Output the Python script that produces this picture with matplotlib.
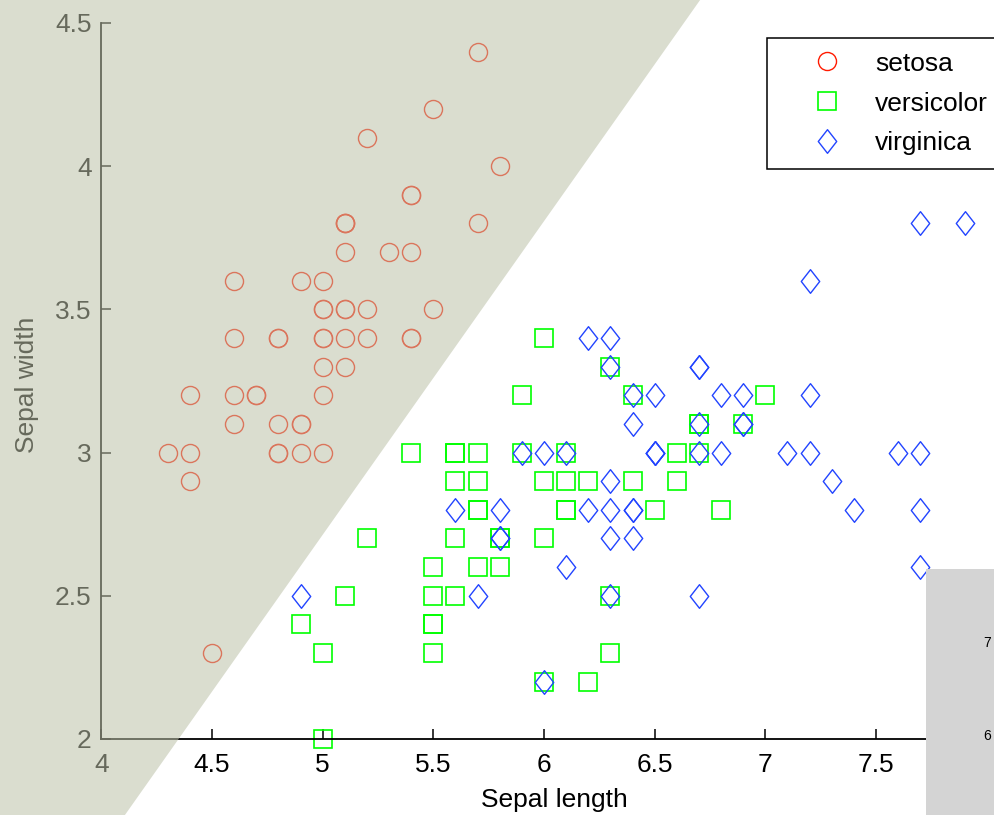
import matplotlib.pyplot as plt
import numpy as np
from matplotlib.path import Path
from matplotlib.patches import Polygon, Rectangle

plt.rcParams['font.family'] = ['Liberation Sans', 'DejaVu Sans']

# iris sepal measurements (length, width) per species
setosa_len = [5.1, 4.9, 4.7, 4.6, 5.0, 5.4, 4.6, 5.0, 4.4, 4.9, 5.4, 4.8, 4.8, 4.3, 5.8, 5.7, 5.4,
              5.1, 5.7, 5.1, 5.4, 5.1, 4.6, 5.1, 4.8, 5.0, 5.0, 5.2, 5.2, 4.7, 4.8, 5.4, 5.2, 5.5,
              4.9, 5.0, 5.5, 4.9, 4.4, 5.1, 5.0, 4.5, 4.4, 5.0, 5.1, 4.8, 5.1, 4.6, 5.3, 5.0]
setosa_wid = [3.5, 3.0, 3.2, 3.1, 3.6, 3.9, 3.4, 3.4, 2.9, 3.1, 3.7, 3.4, 3.0, 3.0, 4.0, 4.4, 3.9,
              3.5, 3.8, 3.8, 3.4, 3.7, 3.6, 3.3, 3.4, 3.0, 3.4, 3.5, 3.4, 3.2, 3.1, 3.4, 4.1, 4.2,
              3.1, 3.2, 3.5, 3.6, 3.0, 3.4, 3.5, 2.3, 3.2, 3.5, 3.8, 3.0, 3.8, 3.2, 3.7, 3.3]
versi_len = [7.0, 6.4, 6.9, 5.5, 6.5, 5.7, 6.3, 4.9, 6.6, 5.2, 5.0, 5.9, 6.0, 6.1, 5.6, 6.7, 5.6,
             5.8, 6.2, 5.6, 5.9, 6.1, 6.3, 6.1, 6.4, 6.6, 6.8, 6.7, 6.0, 5.7, 5.5, 5.5, 5.8, 6.0,
             5.4, 6.0, 6.7, 6.3, 5.6, 5.5, 5.5, 6.1, 5.8, 5.0, 5.6, 5.7, 5.7, 6.2, 5.1, 5.7]
versi_wid = [3.2, 3.2, 3.1, 2.3, 2.8, 2.8, 3.3, 2.4, 2.9, 2.7, 2.0, 3.0, 2.2, 2.9, 2.9, 3.1, 3.0,
             2.7, 2.2, 2.5, 3.2, 2.8, 2.5, 2.8, 2.9, 3.0, 2.8, 3.0, 2.9, 2.6, 2.4, 2.4, 2.7, 2.7,
             3.0, 3.4, 3.1, 2.3, 3.0, 2.5, 2.6, 3.0, 2.6, 2.3, 2.7, 3.0, 2.9, 2.9, 2.5, 2.8]
virg_len = [6.3, 5.8, 7.1, 6.3, 6.5, 7.6, 4.9, 7.3, 6.7, 7.2, 6.5, 6.4, 6.8, 5.7, 5.8, 6.4, 6.5,
            7.7, 7.7, 6.0, 6.9, 5.6, 7.7, 6.3, 6.7, 7.2, 6.2, 6.1, 6.4, 7.2, 7.4, 7.9, 6.4, 6.3,
            6.1, 7.7, 6.3, 6.4, 6.0, 6.9, 6.7, 6.9, 5.8, 6.8, 6.7, 6.7, 6.3, 6.5, 6.2, 5.9]
virg_wid = [3.3, 2.7, 3.0, 2.9, 3.0, 3.0, 2.5, 2.9, 2.5, 3.6, 3.2, 2.7, 3.0, 2.5, 2.8, 3.2, 3.0,
            3.8, 2.6, 2.2, 3.2, 2.8, 2.8, 2.7, 3.3, 3.2, 2.8, 3.0, 2.8, 3.0, 2.8, 3.8, 2.8, 2.8,
            2.6, 3.0, 3.4, 3.1, 3.0, 3.1, 3.1, 3.1, 2.7, 3.2, 3.3, 3.0, 2.5, 3.0, 3.4, 3.0]

# linear boundary: width = b0 + b1 * length (setosa region above/left)
b0, b1 = -2.762, 1.095

xticks = [4, 4.5, 5, 5.5, 6, 6.5, 7, 7.5, 8]
yticks = [2, 2.5, 3, 3.5, 4, 4.5]

fig = plt.figure(figsize=(9.95, 8.15), dpi=100)
ax = fig.add_axes([0.1019, 0.0933, 0.8897, 0.8785])

diamond = Path([(0, 1), (0.78, 0), (0, -1), (-0.78, 0), (0, 1)],
               [Path.MOVETO, Path.LINETO, Path.LINETO, Path.LINETO, Path.CLOSEPOLY])

ax.plot(setosa_len, setosa_wid, linestyle='none', marker='o', ms=13, mfc='none',
        mec='#ff1a00', mew=1.0, label='setosa', clip_on=False)
ax.plot(versi_len, versi_wid, linestyle='none', marker='s', ms=12.5, mfc='none',
        mec='#00ff00', mew=1.2, label='versicolor', clip_on=False)
ax.plot(virg_len, virg_wid, linestyle='none', marker=diamond, ms=17, mfc='none',
        mec='#2244ff', mew=1.0, label='virginica', clip_on=False)

ax.set_xlim(4, 8)
ax.set_ylim(2, 4.5)
ax.set_xticks(xticks)
ax.set_xticklabels(['4', '4.5', '5', '5.5', '6', '6.5', '7', '7.5', '8'])
ax.set_yticks(yticks)
ax.set_yticklabels(['2', '2.5', '3', '3.5', '4', '4.5'])
ax.spines['top'].set_visible(False)
ax.spines['right'].set_visible(False)
for s in ['left', 'bottom']:
    ax.spines[s].set_linewidth(1.3)
ax.tick_params(direction='in', length=7.2, width=1.1, labelsize=19, pad=7)
ax.tick_params(axis='x', pad=10)

ax.set_xlabel('Sepal length', fontsize=19)
ax.set_ylabel('Sepal width', fontsize=19)
ax.xaxis.set_label_coords(0.512, -0.069)
ax.yaxis.set_label_coords(-0.070, 0.495)

leg = ax.legend(loc='upper left', bbox_to_anchor=(767 / 995, 1 - 38 / 815),
                bbox_transform=fig.transFigure, fontsize=19, numpoints=1,
                fancybox=False, framealpha=1, edgecolor='black', borderpad=0.52,
                handlelength=3.47, handletextpad=0.1, labelspacing=0.6, borderaxespad=0)
leg.get_frame().set_linewidth(1.1)

# shaded decision region overlaid on everything
xa, xb = 2.0, 9.0
region = Polygon([(xa, b0 + b1 * xa), (xb, b0 + b1 * xb), (xa, b0 + b1 * xb)],
                 closed=True, facecolor=(188 / 255, 193 / 255, 168 / 255), alpha=0.55,
                 edgecolor='none', clip_on=False, zorder=10)
ax.add_patch(region)

# piece of another window in the lower right corner
fig.add_artist(Rectangle((926 / 995, 0), 69 / 995, 246 / 815, transform=fig.transFigure,
                         facecolor='#d4d4d4', edgecolor='none', zorder=20))
fig.text(987 / 995, 1 - 643 / 815, '7', fontsize=10, ha='center', va='center', zorder=21)
fig.text(987 / 995, 1 - 736 / 815, '6', fontsize=10, ha='center', va='center', zorder=21)

plt.savefig('out.png', dpi=100)
